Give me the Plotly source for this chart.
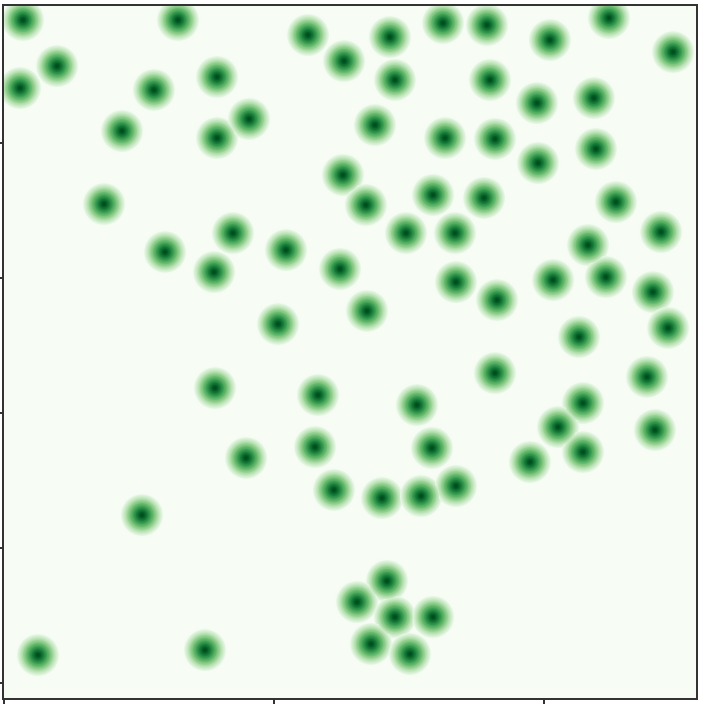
import plotly.graph_objects as go

# point positions (data units)
x_vals = [1.41, 12.89, 22.52, 28.59, 32.52, 35.78, 40.44, 44.81, 49.56,
          3.93, 1.19, 11.11, 15.78, 25.19, 28.96, 36.00, 39.48, 43.70,
          8.74, 15.78, 18.15, 27.48, 32.67, 36.37, 39.56, 43.85,
          7.41, 25.11, 26.81, 31.78, 35.56, 45.33,
          16.96, 11.93, 15.56, 20.89, 24.89, 29.78, 33.41, 48.67, 43.26, 44.59,
          40.67, 33.48, 36.52, 48.07, 49.19, 26.89, 20.30, 42.59,
          15.63, 23.26, 17.93, 23.04, 24.44, 10.22, 36.37, 47.63, 30.59, 42.89,
          41.04, 48.22, 42.89, 31.70, 38.96, 28.00, 30.89, 33.48,
          28.37, 26.15, 28.96, 31.78, 27.19, 30.07, 2.52, 14.89]
y_vals = [49.11, 49.11, 48.00, 47.85, 48.89, 48.74, 47.63, 49.26, 46.74,
          45.70, 44.07, 43.93, 44.89, 46.07, 44.67, 44.67, 42.96, 43.33,
          40.89, 40.37, 41.78, 41.33, 40.37, 40.30, 38.52, 39.56,
          35.48, 37.63, 35.41, 36.15, 35.93, 35.63,
          33.33, 31.93, 30.44, 32.07, 30.67, 33.33, 33.33, 33.41, 32.44, 30.07,
          29.85, 29.70, 28.37, 28.96, 26.30, 27.56, 26.59, 25.63,
          21.85, 21.33, 16.67, 17.48, 14.30, 12.44, 22.96, 22.67, 20.59, 20.74,
          18.96, 18.74, 17.11, 17.41, 16.37, 13.70, 13.85, 14.59,
          7.56, 6.00, 4.89, 4.89, 2.89, 2.15, 2.07, 2.44]

x_ticks = [0, 20, 40]
y_ticks = [0, 10, 20, 30, 40]
x_range = [0, 51.26]
y_range = [-1.11, 50.15]

# blob colour profile (style): radius in px -> colour
profile = [(0, (0, 68, 27)), (3, (0, 98, 40)), (6, (25, 132, 62)),
           (9, (60, 165, 90)), (12, (105, 192, 117)), (15, (155, 215, 152)),
           (18, (202, 235, 197)), (21, (236, 248, 233))]

fig = go.Figure()

def rgba(c, a=1.0):
    return "rgba(%d,%d,%d,%.3f)" % (c[0], c[1], c[2], a)

def add_layer(size, rim, centre):
    fig.add_trace(go.Scatter(
        x=x_vals, y=y_vals, mode="markers", hoverinfo="skip",
        marker=dict(size=size, color=rim, symbol="circle", line=dict(width=0),
                    gradient=dict(type="radial", color=centre)),
        showlegend=False, cliponaxis=True,
    ))

# soft halo
add_layer(48, rgba(profile[-1][1], 0.0), rgba(profile[-1][1], 1.0))
# opaque bands, outermost first; centre colour extrapolated so the visible band
# is linear between the profile colours at its inner and outer radius
for k in range(len(profile) - 1, 0, -1):
    r_out, p_out = profile[k]
    r_in, p_in = profile[k - 1]
    if r_in == 0:
        c = p_in
    else:
        c = tuple(max(0, min(255, round(pi - (po - pi) * r_in / (r_out - r_in))))
                  for pi, po in zip(p_in, p_out))
    add_layer(2 * r_out, rgba(p_out), rgba(c))

axis_common = dict(showgrid=False, zeroline=False, showticklabels=False,
                   ticks="outside", ticklen=4, tickwidth=2, tickcolor="#333333",
                   showline=True, linecolor="#333333", linewidth=2, mirror=True)

fig.update_layout(
    width=702, height=705,
    margin=dict(l=4, r=6, t=6, b=7, autoexpand=False),
    paper_bgcolor="white", plot_bgcolor="#f7fcf5",
    xaxis=dict(range=x_range, tickmode="array", tickvals=x_ticks, **axis_common),
    yaxis=dict(range=y_range, tickmode="array", tickvals=y_ticks, **axis_common),
)

fig.write_html("out.html")
